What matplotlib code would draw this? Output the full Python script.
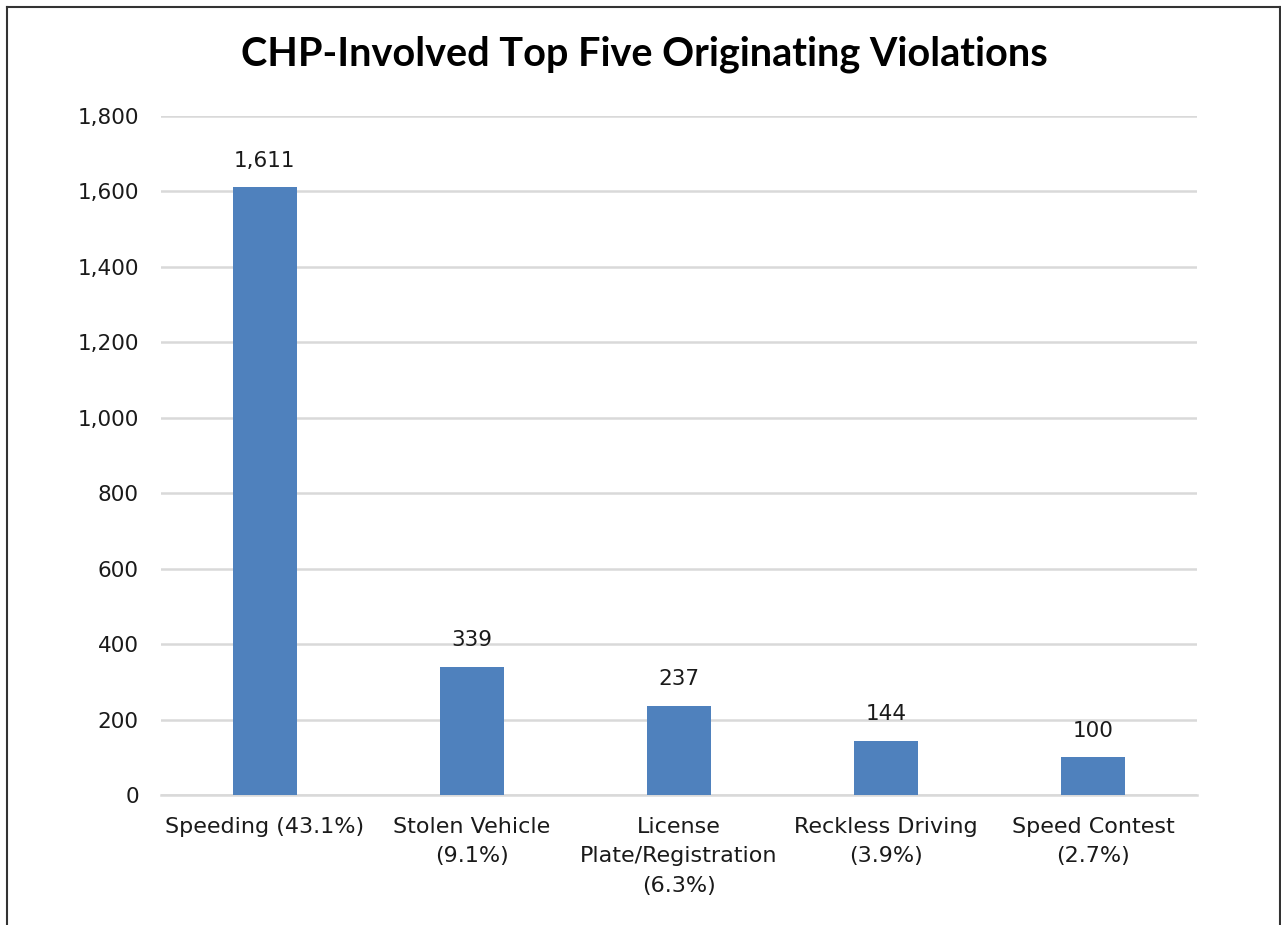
import matplotlib.pyplot as plt

categories = ['Speeding (43.1%)', 'Stolen Vehicle\n(9.1%)', 'License\nPlate/Registration\n(6.3%)',
              'Reckless Driving\n(3.9%)', 'Speed Contest\n(2.7%)']
counts = [1611, 339, 237, 144, 100]
yticks = list(range(0, 2000, 200))

plt.rcParams['font.family'] = ['DejaVu Sans']

fig = plt.figure(figsize=(12.81, 9.25), dpi=100)
ax = fig.add_axes([0.1257, 0.1405, 0.8087, 0.7341])

x = range(len(categories))
bars = ax.bar(x, counts, width=0.31, color='#4f81bd', zorder=3)
for b, v in zip(bars, counts):
    ax.annotate(f'{v:,}', (b.get_x() + b.get_width() / 2, v), xytext=(0, 12),
                textcoords='offset points', ha='center', va='bottom',
                fontsize=15.5, color='#1a1a1a')

ax.set_xlim(-0.5, len(categories) - 0.5)
ax.set_ylim(0, 1800)
ax.set_yticks(yticks)
ax.set_yticklabels([f'{t:,}' for t in yticks], fontsize=15.5, color='#1a1a1a')
ax.set_xticks(list(x))
ax.set_xticklabels(categories, fontsize=16, color='#1a1a1a', linespacing=1.62)
ax.tick_params(axis='both', length=0)
ax.tick_params(axis='y', pad=16)
ax.tick_params(axis='x', pad=15.5)
ax.grid(axis='y', color='#d9d9d9', linewidth=1.8, zorder=0)
for s in ['top', 'right', 'left']:
    ax.spines[s].set_visible(False)
ax.spines['bottom'].set_color('#d9d9d9')
ax.spines['bottom'].set_linewidth(1.8)

fig.text(0.503, 0.941, 'CHP-Involved Top Five Originating Violations', ha='center', va='center',
         fontsize=28.5, fontweight='bold', color='black', family='Lato')

# outer frame (open at the bottom)
fx0, fx1, fy1 = 7 / 1281, 1280 / 1281, 1 - 7 / 925
for xs, ys in [([fx0, fx0], [0, fy1]), ([fx0, fx1], [fy1, fy1]), ([fx1, fx1], [0, fy1])]:
    fig.add_artist(plt.Line2D(xs, ys, color='#333333', lw=1.5, transform=fig.transFigure))

fig.savefig('out.png', dpi=100)
